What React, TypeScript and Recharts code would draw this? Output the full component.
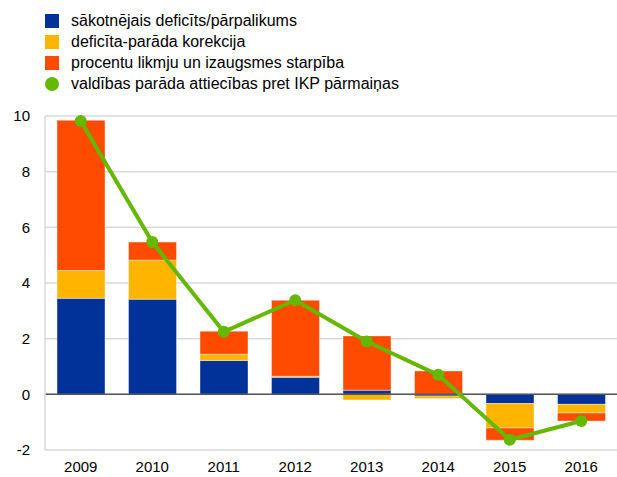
import React from 'react';
import {
    ComposedChart, Bar, Line, XAxis, YAxis, CartesianGrid, ReferenceLine
} from 'recharts';

const YEARS = ['2009', '2010', '2011', '2012', '2013', '2014', '2015', '2016'];
const PRIMARY = [3.45, 3.42, 1.22, 0.61, 0.15, -0.06, -0.33, -0.36];
const DEFICIT_DEBT = [1.0, 1.4, 0.22, 0.04, -0.2, -0.09, -0.88, -0.31];
const RATE_GROWTH = [5.4, 0.65, 0.83, 2.73, 1.95, 0.84, -0.44, -0.29];
const DEBT_CHANGE = [9.82, 5.47, 2.25, 3.38, 1.9, 0.7, -1.63, -0.96];
const Y_TICKS = [-2, 0, 2, 4, 6, 8, 10];

const BLUE = '#003299';
const YELLOW = '#ffb400';
const ORANGE = '#ff4b00';
const GREEN = '#65b800';

const LEGEND = [
    { label: 'sākotnējais deficīts/pārpalikums', color: BLUE, round: false },
    { label: 'deficīta-parāda korekcija', color: YELLOW, round: false },
    { label: 'procentu likmju un izaugsmes starpība', color: ORANGE, round: false },
    { label: 'valdības parāda attiecības pret IKP pārmaiņas', color: GREEN, round: true },
];

const data = YEARS.map((year, i) => ({
    year,
    primary: PRIMARY[i],
    ddAdj: DEFICIT_DEBT[i],
    rgDiff: RATE_GROWTH[i],
    change: DEBT_CHANGE[i],
}));

const FONT = 'Arial, "Liberation Sans", sans-serif';

export default function App() {
    return (
        <div style={{ position: 'absolute', left: 0, top: 0, width: 617, height: 477, fontFamily: FONT, background: '#fff' }}>
            {/* legend */}
            <div style={{ position: 'absolute', left: 45, top: 10 }}>
                {LEGEND.map((item, i) => (
                    <div key={i} style={{ display: 'flex', alignItems: 'center', height: 21 }}>
                        <div style={{
                            width: 14, height: 14, background: item.color,
                            borderRadius: item.round ? '50%' : 0, marginRight: 12,
                        }} />
                        <span style={{ fontSize: 16, color: '#000' }}>{item.label}</span>
                    </div>
                ))}
            </div>

            <ComposedChart
                width={617}
                height={477}
                data={data}
                stackOffset="sign"
                margin={{ top: 116, right: 0, bottom: 0, left: 0 }}
            >
                <CartesianGrid vertical={false} stroke="#d9d9d9" strokeWidth={1.5} />
                <XAxis
                    dataKey="year"
                    height={27}
                    axisLine={false}
                    tickLine={false}
                    tickSize={0}
                    tickMargin={11}
                    tick={{ fontSize: 15, fill: '#000', fontFamily: FONT }}
                />
                <YAxis
                    width={45}
                    domain={[-2, 10]}
                    ticks={Y_TICKS}
                    interval={0}
                    axisLine={{ stroke: '#d9d9d9', strokeWidth: 1.5 }}
                    tickLine={false}
                    tickSize={0}
                    tickMargin={15}
                    tick={{ fontSize: 15, fill: '#000', fontFamily: FONT }}
                />
                <Bar dataKey="primary" stackId="a" fill={BLUE} barSize={48} stroke="#ffffff" strokeOpacity={0.4} isAnimationActive={false} />
                <Bar dataKey="ddAdj" stackId="a" fill={YELLOW} barSize={48} stroke="#ffffff" strokeOpacity={0.4} isAnimationActive={false} />
                <Bar dataKey="rgDiff" stackId="a" fill={ORANGE} barSize={48} stroke="#ffffff" strokeOpacity={0.4} isAnimationActive={false} />
                <ReferenceLine y={0} stroke="#555555" strokeWidth={1.5} />
                <Line
                    dataKey="change"
                    type="linear"
                    stroke={GREEN}
                    strokeWidth={4}
                    dot={{ r: 6, fill: GREEN, stroke: GREEN, strokeWidth: 0 }}
                    activeDot={false}
                    isAnimationActive={false}
                />
            </ComposedChart>
        </div>
    );
}
